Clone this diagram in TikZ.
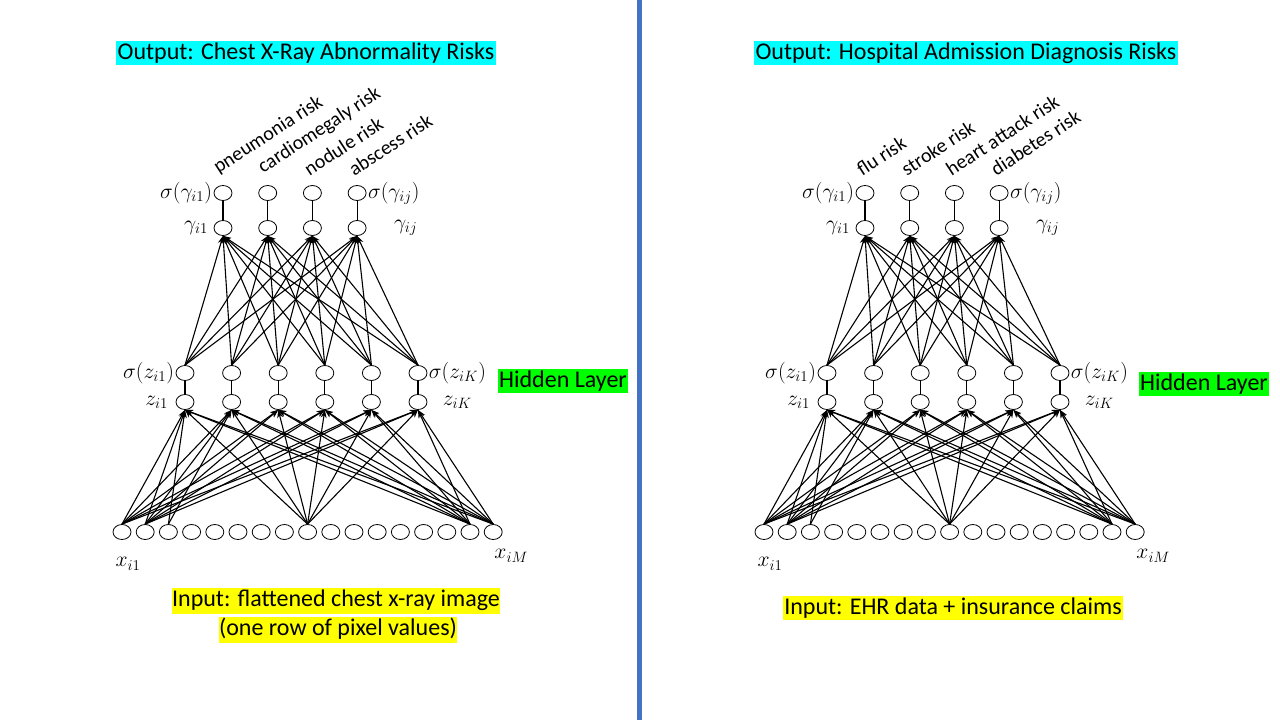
\documentclass[tikz,border=0pt]{standalone}
\usepackage{fontspec}
\setmainfont{Carlito}
\usetikzlibrary{shapes.geometric,arrows.meta}
\definecolor{cy}{RGB}{0,255,255}
\definecolor{gr}{RGB}{0,255,0}
\definecolor{ye}{RGB}{255,255,0}
\definecolor{bl}{RGB}{68,114,196}
\begin{document}
\begin{tikzpicture}[x=1pt,y=-1pt,
  neu/.style={ellipse,draw,line width=0.8pt,minimum width=18pt,minimum height=15pt,inner sep=0pt,fill=white},
  con/.style={line width=1.1pt,-{Stealth[length=8pt,width=6pt]}},
  lnk/.style={line width=1.1pt},
  lab/.style={font=\fontsize{17}{17}\selectfont,inner sep=1pt,scale=1.25},
  rl/.style={font=\fontsize{20}{20}\selectfont,rotate=33,anchor=south west,inner sep=1pt},
  tag/.style={font=\fontsize{24}{26}\selectfont,inner sep=1.5pt,align=center}]
\useasboundingbox (0,0) rectangle (1280,720);
\fill[white] (0,0) rectangle (1280,720);
\fill[bl] (636.5,0) rectangle (641.5,720);
\foreach \side/\xin/\xh/\xg in {L/122/185/223,R/764/827/865}{
  \foreach \i in {1,...,17}{\node[neu] (\side x\i) at ({\xin+(\i-1)*23.2},532) {};}
  \foreach \k in {1,...,6}{
    \node[neu] (\side z\k) at ({\xh+(\k-1)*46.6},402) {};
    \node[neu] (\side s\k) at ({\xh+(\k-1)*46.6},373) {};
    \draw[lnk] (\side z\k) -- (\side s\k);}
  \foreach \j in {1,...,4}{
    \node[neu] (\side g\j) at ({\xg+(\j-1)*44.7},228) {};
    \node[neu] (\side o\j) at ({\xg+(\j-1)*44.7},193) {};
    \draw[lnk] (\side g\j) -- (\side o\j);}
  \foreach \k in {1,...,6}{\foreach \j in {1,...,4}{\draw[con] (\side s\k.north) -- (\side g\j.south);}}
  \foreach \i in {1,2,9,16,17}{\foreach \k in {1,...,6}{\draw[con] (\side x\i.north) -- (\side z\k.south);}}
  \foreach \k in {1,2}{\draw[con] (\side x3.north) -- (\side z\k.south);}
  \node[lab,anchor=east] at (\side o1.west) {$\sigma(\gamma_{i1})$};
  \node[lab,anchor=west] at (\side o4.east) {$\sigma(\gamma_{ij})$};
  \node[lab,anchor=east] at ([xshift=-4pt]\side g1.west) {$\gamma_{i1}$};
  \node[lab,anchor=west] at ([xshift=26pt]\side g4.east) {$\gamma_{ij}$};
  \node[lab,anchor=east] at (\side s1.west) {$\sigma(z_{i1})$};
  \node[lab,anchor=west] at (\side s6.east) {$\sigma(z_{iK})$};
  \node[lab,anchor=east] at ([xshift=-6pt]\side z1.west) {$z_{i1}$};
  \node[lab,anchor=west] at ([xshift=14pt]\side z6.east) {$z_{iK}$};
  \node[lab] at ([xshift=6pt,yshift=-24pt]\side x1.south) {$x_{i1}$};
  \node[lab] at ([xshift=18pt,yshift=-16pt]\side x17.south) {$x_{iM}$};
}
\node[rl] at ([xshift=-3pt,yshift=7pt]Lo1.north) {pneumonia risk};
\node[rl] at ([xshift=-3pt,yshift=7pt]Lo2.north) {cardiomegaly risk};
\node[rl] at ([xshift=-3pt,yshift=7pt]Lo3.north) {nodule risk};
\node[rl] at ([xshift=-3pt,yshift=7pt]Lo4.north) {abscess risk};
\node[rl] at ([xshift=-3pt,yshift=7pt]Ro1.north) {flu risk};
\node[rl] at ([xshift=-3pt,yshift=7pt]Ro2.north) {stroke risk};
\node[rl] at ([xshift=-3pt,yshift=7pt]Ro3.north) {heart attack risk};
\node[rl] at ([xshift=-3pt,yshift=7pt]Ro4.north) {diabetes risk};
\node[tag,fill=cy] (t1) at (306,53) {Output: Chest X-Ray Abnormality Risks};
\node[tag,fill=cy] (t2) at (966,53) {Output: Hospital Admission Diagnosis Risks};
\node[tag,fill=gr] (h1) at (563,381) {Hidden Layer};
\node[tag,fill=gr] (h2) at (1204,384) {Hidden Layer};
\node[tag,fill=ye,inner sep=0pt] (i1a) at (336,601) {\strut Input: flattened chest x-ray image};
\node[tag,fill=ye,inner sep=0pt] (i1b) at (338,630) {\strut (one row of pixel values)};
\node[tag,fill=ye] (i2) at (953,608) {Input: EHR data + insurance claims};
\end{tikzpicture}
\end{document}
